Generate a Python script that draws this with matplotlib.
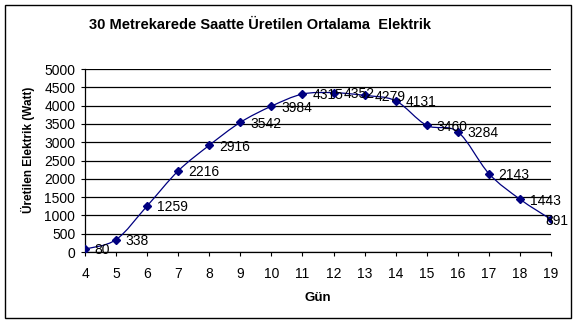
# Saatlik ortalama elektrik üretimi grafiği
import numpy as np
import matplotlib
matplotlib.use('Agg')
import matplotlib.pyplot as plt
from matplotlib.path import Path
from matplotlib.patches import PathPatch, Rectangle

plt.rcParams['font.family'] = ['Liberation Sans', 'DejaVu Sans']

# data
hours = [4, 5, 6, 7, 8, 9, 10, 11, 12, 13, 14, 15, 16, 17, 18, 19]
watts = [80, 338, 1259, 2216, 2916, 3542, 3984, 4315, 4352, 4279, 4131, 3460, 3284, 2143, 1443, 891]
y_ticks = [0, 500, 1000, 1500, 2000, 2500, 3000, 3500, 4000, 4500, 5000]

title = '30 Metrekarede Saatte Üretilen Ortalama  Elektrik'
xlabel = 'Gün'
ylabel = 'Üretilen Elektrik (Watt)'

line_col = '#000080'

fig = plt.figure(figsize=(5.76, 3.24), dpi=100)
ax = fig.add_axes([85/576, 1-252/324, 466/576, 183/324])

# smoothed line like excel (bezier through the points)
pts = np.column_stack([hours, watts]).astype(float)
verts = [pts[0]]
codes = [Path.MOVETO]
n = len(pts)
for i in range(n - 1):
    p0 = pts[i - 1] if i > 0 else pts[i]
    p1 = pts[i]
    p2 = pts[i + 1]
    p3 = pts[i + 2] if i + 2 < n else pts[i + 1]
    c1 = p1 + (p2 - p0) / 6
    c2 = p2 - (p3 - p1) / 6
    verts += [c1, c2, p2]
    codes += [Path.CURVE4] * 3
ax.add_patch(PathPatch(Path(verts, codes), fill=False, edgecolor=line_col, lw=0.9, zorder=3))

ax.plot(hours, watts, linestyle='none', marker='D', markersize=4.5,
        color=line_col, zorder=4)

for i, (h, w) in enumerate(zip(hours, watts)):
    dx = 7 if i < len(hours) - 1 else -4   # last label pushed inside
    ax.annotate(str(w), (h, w), xytext=(dx, -1), textcoords='offset points',
                ha='left', va='center', fontsize=10, zorder=5, clip_on=False)

ax.set_xlim(4, 19)
ax.set_ylim(0, 5000)
ax.set_xticks(hours)
ax.set_yticks(y_ticks)
ax.tick_params(axis='both', labelsize=10, length=3, width=0.8, direction='out')
ax.tick_params(axis='x', pad=8)
ax.tick_params(axis='y', pad=4)
ax.yaxis.grid(True, color='black', lw=0.9)
ax.set_axisbelow(True)
for s in ['top', 'right']:
    ax.spines[s].set_visible(False)
for s in ['left', 'bottom']:
    ax.spines[s].set_linewidth(0.9)

ax.set_xlabel(xlabel, fontsize=9.5, fontweight='bold', labelpad=8)
fig.text(28/576, 1-150/324, ylabel, rotation=90, ha='center', va='center',
         fontsize=8.5, fontweight='bold')
fig.text(260/576, 1-25/324, title, ha='center', va='center', fontsize=10.5, fontweight='bold')

# outer frame
fig.patches.append(Rectangle((5/576, 6/324), 566/576, 313/324, transform=fig.transFigure,
                             fill=False, edgecolor='black', lw=1))

fig.savefig('out.png', dpi=100)
